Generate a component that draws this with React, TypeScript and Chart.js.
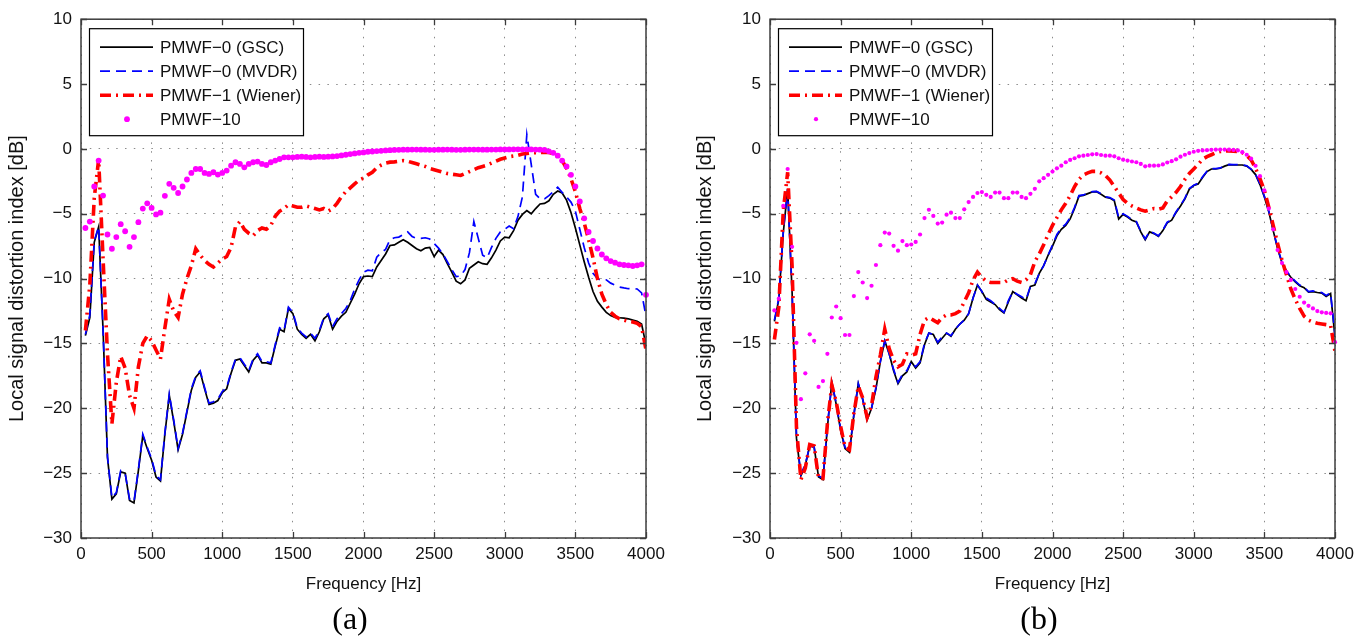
import React, { useEffect, useRef } from "react";
import { Chart, registerables } from "chart.js";

Chart.register(...registerables);

// ---------- data ----------
const FREQ_HZ = [
  31.25, 62.5, 93.75, 125, 156.25, 187.5, 218.75, 250, 281.25, 312.5, 343.75, 375, 406.25, 437.5, 468.75, 500,
  531.25, 562.5, 593.75, 625, 656.25, 687.5, 718.75, 750, 781.25, 812.5, 843.75, 875, 906.25, 937.5, 968.75, 1000,
  1031.25, 1062.5, 1093.75, 1125, 1156.25, 1187.5, 1218.75, 1250, 1281.25, 1312.5, 1343.75, 1375, 1406.25, 1437.5, 1468.75, 1500,
  1531.25, 1562.5, 1593.75, 1625, 1656.25, 1687.5, 1718.75, 1750, 1781.25, 1812.5, 1843.75, 1875, 1906.25, 1937.5, 1968.75, 2000,
  2031.25, 2062.5, 2093.75, 2125, 2156.25, 2187.5, 2218.75, 2250, 2281.25, 2312.5, 2343.75, 2375, 2406.25, 2437.5, 2468.75, 2500,
  2531.25, 2562.5, 2593.75, 2625, 2656.25, 2687.5, 2718.75, 2750, 2781.25, 2812.5, 2843.75, 2875, 2906.25, 2937.5, 2968.75, 3000,
  3031.25, 3062.5, 3093.75, 3125, 3156.25, 3187.5, 3218.75, 3250, 3281.25, 3312.5, 3343.75, 3375, 3406.25, 3437.5, 3468.75, 3500,
  3531.25, 3562.5, 3593.75, 3625, 3656.25, 3687.5, 3718.75, 3750, 3781.25, 3812.5, 3843.75, 3875, 3906.25, 3937.5, 3968.75, 4000,
];

// panel (a)
const GSC_A = [
  -14.4, -13.0, -7.2, -6.0, -14.0, -23.8, -27.0, -26.6, -24.9, -25.0, -27.1, -27.3, -24.8, -22.1, -23.1, -24.0,
  -25.3, -25.6, -22.0, -19.0, -21.0, -23.2, -22.0, -20.3, -18.6, -17.6, -17.2, -18.5, -19.7, -19.6, -19.4, -18.8,
  -18.5, -17.3, -16.3, -16.2, -16.7, -17.2, -16.3, -15.9, -16.5, -16.5, -16.6, -15.2, -13.9, -14.1, -12.3, -12.7,
  -13.9, -14.3, -14.6, -14.3, -14.8, -14.1, -13.1, -12.8, -13.9, -13.3, -12.9, -12.6, -11.9, -11.2, -10.4, -9.85,
  -9.8, -9.85, -9.1, -8.6, -8.1, -7.45, -7.4, -7.2, -7.0, -7.2, -7.45, -7.7, -7.85, -7.65, -7.6, -8.3,
  -7.8, -8.15, -8.85, -9.5, -10.2, -10.4, -10.1, -9.2, -8.95, -8.7, -8.85, -8.9, -8.4, -7.8, -7.1, -6.8,
  -6.85, -6.3, -5.5, -5.05, -4.75, -5.0, -4.6, -4.25, -4.2, -4.0, -3.5, -3.25, -3.4, -3.95, -4.9, -6.1,
  -7.4, -8.7, -9.9, -11.0, -11.75, -12.2, -12.6, -12.85, -13.0, -13.02, -13.05, -13.1, -13.2, -13.3, -13.5, -15.1,
];
const MVDR_A = [
  -14.3, -12.8, -7.1, -6.0, -14.0, -23.7, -26.9, -26.5, -24.8, -25.0, -27.0, -27.2, -24.7, -22.0, -23.0, -23.9,
  -25.2, -25.5, -21.9, -18.9, -20.9, -23.1, -21.9, -20.2, -18.5, -17.5, -17.1, -18.4, -19.6, -19.5, -19.3, -18.7,
  -18.4, -17.2, -16.2, -16.1, -16.6, -17.1, -16.2, -15.8, -16.4, -16.4, -16.5, -15.1, -13.8, -14.0, -12.2, -12.6,
  -13.8, -14.2, -14.5, -14.2, -14.6, -14.0, -13.0, -12.7, -13.7, -13.1, -12.7, -12.3, -11.7, -10.8, -10.1, -9.5,
  -9.35, -9.4, -8.35, -8.0, -7.75, -7.0, -6.85, -6.8, -6.6, -6.4, -6.75, -6.9, -6.9, -6.85, -6.95, -7.3,
  -7.65, -8.1, -8.7, -9.3, -9.85, -9.8, -9.3, -8.0, -5.6, -6.9, -8.2, -8.4, -7.6, -6.9, -6.4, -6.2,
  -5.95, -6.15, -5.2, -3.7, 1.1, -1.2, -3.5, -3.85, -3.85, -3.6, -3.3, -2.95, -3.35, -3.7, -4.1, -4.8,
  -6.2, -7.6, -8.8, -9.6, -10.0, -10.15, -10.1, -10.35, -10.5, -10.65, -10.72, -10.78, -10.78, -10.8, -11.1, -12.9,
];
const WIENER_A = [
  -14.0, -10.5, -3.8, -0.8, -8.5, -15.8, -21.2, -18.0, -16.0, -16.9, -19.0, -20.0, -16.8, -15.0, -14.4, -14.8,
  -15.5, -16.2, -13.8, -11.6, -12.5, -13.0, -11.2, -10.0, -9.0, -7.7, -8.2, -8.6, -8.9, -9.1, -8.8, -8.5,
  -8.3, -7.6, -6.0, -5.6, -6.2, -6.5, -6.7, -6.3, -6.1, -6.2, -5.9, -5.2, -4.8, -4.6, -4.3, -4.4,
  -4.5, -4.5, -4.4, -4.5, -4.6, -4.7, -4.6, -4.8, -4.6, -4.2, -3.7, -3.3, -3.0, -2.7, -2.4, -2.25,
  -2.0, -1.8, -1.45, -1.25, -1.1, -1.02, -1.0, -0.95, -0.9, -0.95, -1.05, -1.15, -1.25, -1.35, -1.5, -1.6,
  -1.7, -1.8, -1.9, -1.95, -2.0, -2.05, -1.9, -1.75, -1.6, -1.45, -1.35, -1.25, -1.1, -0.95, -0.8, -0.7,
  -0.6, -0.55, -0.5, -0.4, -0.35, -0.3, -0.3, -0.28, -0.27, -0.28, -0.35, -0.55, -0.9, -1.5, -2.3, -3.3,
  -4.6, -5.7, -7.0, -8.4, -10.0, -11.2, -12.0, -12.6, -12.9, -13.1, -13.2, -13.3, -13.35, -13.45, -13.7, -15.5,
];
const PMWF10_A = [
  -6.1, -5.6, -2.9, -0.9, -3.6, -6.6, -7.7, -6.8, -5.8, -6.35, -7.55, -6.8, -5.65, -4.6, -4.2, -4.55,
  -5.05, -4.92, -3.62, -2.69, -3.0, -3.4, -2.9, -2.36, -1.85, -1.55, -1.55, -1.85, -1.93, -1.8, -1.98, -1.85,
  -1.67, -1.29, -1.03, -1.16, -1.42, -1.16, -1.03, -0.98, -1.16, -1.24, -1.03, -0.9, -0.78, -0.65, -0.65, -0.65,
  -0.62, -0.6, -0.62, -0.65, -0.62, -0.6, -0.62, -0.6, -0.58, -0.55, -0.5, -0.45, -0.4, -0.35, -0.3, -0.27,
  -0.22, -0.2, -0.17, -0.15, -0.12, -0.1, -0.08, -0.07, -0.06, -0.06, -0.05, -0.05, -0.06, -0.06, -0.07, -0.07,
  -0.06, -0.06, -0.05, -0.06, -0.07, -0.07, -0.06, -0.05, -0.05, -0.05, -0.06, -0.06, -0.05, -0.05, -0.04, -0.04,
  -0.04, -0.03, -0.03, -0.03, -0.03, -0.04, -0.05, -0.06, -0.08, -0.19, -0.3, -0.52, -0.9, -1.35, -2.0, -2.9,
  -4.05, -5.35, -6.4, -7.1, -7.68, -8.14, -8.44, -8.65, -8.77, -8.9, -8.95, -8.98, -9.03, -8.98, -8.9, -11.25,
];

// panel (b)
const GSC_B = [
  -13.3, -11.6, -6.5, -3.1, -11.0, -22.3, -25.2, -24.4, -22.9, -23.0, -25.3, -25.5, -21.5, -18.0, -19.7, -21.7,
  -23.1, -23.4, -20.5, -18.1, -19.3, -20.9, -20.0, -18.5, -16.4, -14.8, -15.8, -17.1, -18.1, -17.5, -17.2, -16.4,
  -16.9, -16.5, -15.1, -14.2, -14.3, -15.0, -14.6, -14.2, -14.45, -13.9, -13.5, -13.2, -12.7, -11.5, -10.5, -11.0,
  -11.6, -11.8, -12.0, -12.4, -12.65, -11.8, -11.0, -11.25, -11.5, -11.7, -10.6, -10.5, -9.6, -9.0, -8.2, -7.5,
  -6.7, -6.2, -5.9, -5.4, -4.6, -3.64, -3.58, -3.45, -3.32, -3.3, -3.5, -3.72, -3.79, -4.0, -5.4, -5.05,
  -5.25, -5.5, -5.63, -6.4, -7.0, -6.4, -6.53, -6.75, -6.3, -5.7, -5.5, -4.9, -4.4, -3.85, -3.1, -2.82,
  -2.7, -2.2, -1.75, -1.55, -1.55, -1.49, -1.33, -1.22, -1.24, -1.24, -1.24, -1.33, -1.58, -1.98, -2.75, -3.7,
  -4.85, -6.3, -7.7, -8.8, -9.45, -9.9, -10.25, -10.55, -10.7, -11.05, -11.0, -11.07, -11.12, -11.38, -11.15, -14.5,
];
const MVDR_B = [
  -13.2, -11.5, -6.4, -3.1, -11.0, -22.2, -25.1, -24.3, -22.9, -23.0, -25.2, -25.4, -21.4, -18.0, -19.6, -21.6,
  -23.0, -23.3, -20.5, -18.1, -19.3, -20.8, -20.0, -18.4, -16.4, -14.8, -15.8, -17.0, -18.0, -17.4, -17.1, -16.4,
  -16.8, -16.4, -15.0, -14.2, -14.3, -14.9, -14.5, -14.2, -14.4, -13.9, -13.5, -13.2, -12.7, -11.5, -10.5, -11.0,
  -11.5, -11.7, -12.0, -12.3, -12.6, -11.7, -11.0, -11.2, -11.4, -11.6, -10.6, -10.4, -9.6, -9.0, -8.2, -7.4,
  -6.6, -6.1, -5.8, -5.3, -4.5, -3.6, -3.55, -3.4, -3.3, -3.28, -3.45, -3.7, -3.75, -3.95, -5.3, -5.0,
  -5.2, -5.45, -5.6, -6.35, -6.95, -6.35, -6.5, -6.7, -6.25, -5.65, -5.45, -4.85, -4.35, -3.8, -3.05, -2.8,
  -2.65, -2.15, -1.72, -1.52, -1.52, -1.47, -1.3, -1.2, -1.22, -1.22, -1.22, -1.3, -1.55, -1.95, -2.7, -3.65,
  -4.8, -6.25, -7.65, -8.75, -9.4, -9.85, -10.2, -10.5, -10.65, -11.0, -10.95, -11.02, -11.08, -11.3, -11.1, -14.4,
];
const WIENER_B = [
  -14.7, -12.2, -4.8, -1.8, -9.0, -21.5, -25.5, -24.6, -22.8, -22.9, -25.4, -25.4, -21.2, -18.2, -19.5, -21.4,
  -23.0, -23.2, -20.4, -18.3, -19.2, -20.7, -19.8, -17.6, -15.9, -13.9, -15.4, -16.3, -16.8, -16.6, -15.8, -15.9,
  -15.8, -14.3, -13.2, -13.0, -13.2, -13.4, -13.0, -12.8, -12.8, -12.7, -12.5, -11.8, -11.1, -10.1, -9.5, -9.9,
  -10.2, -10.3, -10.3, -10.3, -10.3, -10.1, -10.0, -10.2, -10.3, -10.1, -9.7, -8.7, -8.1, -7.4, -6.6, -5.9,
  -5.3, -4.7, -4.2, -3.6, -2.9, -2.35, -2.0, -1.85, -1.73, -1.73, -1.85, -2.05, -2.4, -2.9, -3.4, -3.9,
  -4.2, -4.4, -4.55, -4.7, -4.8, -4.7, -4.6, -4.65, -4.55, -4.0, -3.7, -3.35, -2.9, -2.35, -1.9, -1.55,
  -1.2, -0.8, -0.6, -0.45, -0.3, -0.2, -0.15, -0.15, -0.17, -0.2, -0.3, -0.5, -0.85, -1.5, -2.3, -3.2,
  -4.5, -5.9, -7.3, -8.6, -9.7, -10.8, -11.6, -12.3, -12.9, -13.2, -13.35, -13.45, -13.5, -13.55, -13.6, -15.6,
];
const PMWF10_B = [
  -12.45, -11.55, -4.4, -1.55, -7.55, -14.95, -19.3, -17.3, -14.3, -14.8, -18.35, -17.9, -15.8, -13.0, -12.15, -13.05,
  -14.35, -14.35, -11.35, -9.5, -10.3, -11.5, -10.55, -8.95, -7.42, -6.45, -6.53, -7.47, -7.85, -7.11, -7.42, -7.37,
  -7.17, -6.6, -5.33, -4.69, -5.17, -5.76, -5.68, -5.07, -4.92, -5.33, -5.33, -4.66, -4.1, -3.7, -3.4, -3.33,
  -3.54, -3.7, -3.37, -3.37, -3.8, -3.8, -3.37, -3.37, -3.7, -3.8, -3.46, -3.08, -2.5, -2.26, -2.0, -1.75,
  -1.5, -1.29, -1.03, -0.85, -0.72, -0.57, -0.52, -0.47, -0.42, -0.4, -0.47, -0.52, -0.52, -0.57, -0.72, -0.83,
  -0.9, -0.97, -1.03, -1.16, -1.34, -1.29, -1.29, -1.28, -1.2, -1.05, -0.95, -0.8, -0.6, -0.45, -0.32, -0.22,
  -0.15, -0.12, -0.1, -0.07, -0.05, -0.05, -0.05, -0.06, -0.08, -0.12, -0.25, -0.45, -0.75, -1.3, -2.1, -3.2,
  -4.6, -6.2, -7.8, -8.8, -9.5, -10.1, -10.8, -11.4, -11.85, -12.1, -12.3, -12.5, -12.6, -12.65, -12.68, -14.9,
];

const SERIES_LABELS = ["PMWF\u22120 (GSC)", "PMWF\u22120 (MVDR)", "PMWF\u22121 (Wiener)", "PMWF\u221210"];
const X_TICKS = [0, 500, 1000, 1500, 2000, 2500, 3000, 3500, 4000];
const Y_TICKS = [-30, -25, -20, -15, -10, -5, 0, 5, 10];
const X_TITLE = "Frequency [Hz]";
const Y_TITLE = "Local signal distortion index [dB]";
const PANEL_LABELS = ["(a)", "(b)"];

// ---------- styling ----------
const SANS = '"Liberation Sans", Arial, Helvetica, sans-serif';
const TEXT = "#111111";
const FRAME = "#3c3c3c";

const matlabPlugin = {
  id: "matlabFrameLegend",
  afterDatasetsDraw(chart: any) {
    const { ctx, chartArea, scales } = chart;
    const { left, right, top, bottom } = chartArea;
    const xs = scales.x;
    const ys = scales.y;
    ctx.save();
    // inward ticks on all four sides
    ctx.strokeStyle = FRAME;
    ctx.lineWidth = 1.3;
    ctx.setLineDash([]);
    ctx.beginPath();
    X_TICKS.forEach((v) => {
      const px = Math.round(xs.getPixelForValue(v)) + 0.5;
      ctx.moveTo(px, bottom);
      ctx.lineTo(px, bottom - 6);
      ctx.moveTo(px, top);
      ctx.lineTo(px, top + 6);
    });
    Y_TICKS.forEach((v) => {
      const py = Math.round(ys.getPixelForValue(v)) + 0.5;
      ctx.moveTo(left, py);
      ctx.lineTo(left + 6, py);
      ctx.moveTo(right, py);
      ctx.lineTo(right - 6, py);
    });
    ctx.stroke();
    ctx.lineWidth = 1.5;
    ctx.strokeRect(left, top, right - left, bottom - top);

    // legend box
    const x0 = left + 8;
    const y0 = top + 9;
    const w = 214;
    const h = 107;
    ctx.fillStyle = "#ffffff";
    ctx.fillRect(x0, y0, w, h);
    ctx.strokeStyle = "#000000";
    ctx.lineWidth = 1.2;
    ctx.strokeRect(x0 + 0.5, y0 + 0.5, w, h);
    ctx.font = `17px ${SANS}`;
    ctx.textBaseline = "middle";
    ctx.textAlign = "left";
    chart.data.datasets.forEach((ds: any, i: number) => {
      const yy = y0 + 19 + i * 24;
      if (ds.showLine === false) {
        ctx.fillStyle = ds.pointBackgroundColor;
        ctx.beginPath();
        ctx.arc(x0 + 38, yy, ds.pointRadius, 0, Math.PI * 2);
        ctx.fill();
      } else {
        ctx.strokeStyle = ds.borderColor;
        ctx.lineWidth = ds.borderWidth;
        ctx.setLineDash(ds.borderDash || []);
        ctx.beginPath();
        ctx.moveTo(x0 + 11, yy);
        ctx.lineTo(x0 + 64, yy);
        ctx.stroke();
        ctx.setLineDash([]);
      }
      ctx.fillStyle = TEXT;
      ctx.fillText(ds.label, x0 + 71, yy + 1);
    });
    ctx.restore();
  },
};

type PanelProps = {
  left: number;
  axisWidth: number;
  padRight: number;
  yTitlePad: number;
  dotRadius: number;
  gsc: number[];
  mvdr: number[];
  wiener: number[];
  pmwf10: number[];
};

function toPoints(values: number[]) {
  return FREQ_HZ.map((f, i) => ({ x: f, y: values[i] }));
}

function Panel(props: PanelProps) {
  const ref = useRef<HTMLCanvasElement | null>(null);
  useEffect(() => {
    if (!ref.current) return;
    const chart = new Chart(ref.current, {
      type: "line",
      data: {
        datasets: [
          {
            label: SERIES_LABELS[0],
            data: toPoints(props.gsc),
            borderColor: "#000000",
            borderWidth: 1.7,
            pointRadius: 0,
            tension: 0,
            order: 4,
          },
          {
            label: SERIES_LABELS[1],
            data: toPoints(props.mvdr),
            borderColor: "#0000ff",
            borderWidth: 1.7,
            borderDash: [10, 6],
            pointRadius: 0,
            tension: 0,
            order: 3,
          },
          {
            label: SERIES_LABELS[2],
            data: toPoints(props.wiener),
            borderColor: "#ff0000",
            borderWidth: 3.6,
            borderDash: [11, 5, 2, 5],
            pointRadius: 0,
            tension: 0,
            order: 2,
          },
          {
            label: SERIES_LABELS[3],
            data: toPoints(props.pmwf10),
            showLine: false,
            borderColor: "#ff00ff",
            pointBackgroundColor: "#ff00ff",
            pointBorderColor: "#ff00ff",
            pointBorderWidth: 0,
            pointRadius: props.dotRadius,
            clip: 8,
            order: 1,
          },
        ] as any,
      },
      options: {
        animation: false,
        responsive: false,
        devicePixelRatio: 1,
        events: [],
        layout: { padding: { top: 16, right: props.padRight, left: 0, bottom: 0 } },
        plugins: { legend: { display: false }, tooltip: { enabled: false } },
        scales: {
          x: {
            type: "linear",
            min: 0,
            max: 4000,
            afterBuildTicks: (s: any) => {
              s.ticks = X_TICKS.map((v) => ({ value: v }));
            },
            afterFit: (s: any) => {
              s.height = 105;
            },
            ticks: {
              autoSkip: false,
              maxRotation: 0,
              padding: 6,
              color: TEXT,
              font: { family: SANS, size: 17 },
              callback: (v: any) => String(v),
            },
            grid: { color: "#8a8a8a", lineWidth: 1, drawTicks: false },
            border: { display: false, dash: [1.5, 7.3] },
            title: {
              display: true,
              text: X_TITLE,
              color: TEXT,
              font: { family: SANS, size: 17 },
              padding: { top: 0, bottom: 48 },
            },
          },
          y: {
            type: "linear",
            min: -30,
            max: 10,
            afterBuildTicks: (s: any) => {
              s.ticks = Y_TICKS.map((v) => ({ value: v }));
            },
            afterFit: (s: any) => {
              s.width = props.axisWidth;
            },
            ticks: {
              padding: 9,
              color: TEXT,
              font: { family: SANS, size: 17 },
              callback: (v: any) => String(v).replace("-", "\u2212"),
            },
            grid: { color: "#8a8a8a", lineWidth: 1, drawTicks: false },
            border: { display: false, dash: [1.5, 7.3] },
            title: {
              display: true,
              text: Y_TITLE,
              color: TEXT,
              font: { family: SANS, size: 20 },
              padding: { top: props.yTitlePad, bottom: 0 },
            },
          },
        },
      } as any,
      plugins: [matlabPlugin],
    });
    return () => chart.destroy();
  }, []);
  return (
    <canvas
      ref={ref}
      width={683}
      height={643}
      style={{ position: "absolute", left: props.left, top: 0, width: 683, height: 643 }}
    />
  );
}

const labelStyle = (centerX: number): React.CSSProperties => ({
  position: "absolute",
  left: centerX - 50,
  width: 100,
  top: 602,
  textAlign: "center",
  fontFamily: '"Liberation Serif", "Times New Roman", serif',
  fontSize: 32,
  lineHeight: "32px",
  color: "#000",
});

export default function App() {
  return (
    <div
      style={{
        position: "absolute",
        left: 0,
        top: 0,
        width: 1366,
        height: 643,
        background: "#ffffff",
        overflow: "hidden",
      }}
    >
      <Panel
        left={0}
        axisWidth={81}
        padRight={37}
        yTitlePad={5}
        dotRadius={2.9}
        gsc={GSC_A}
        mvdr={MVDR_A}
        wiener={WIENER_A}
        pmwf10={PMWF10_A}
      />
      <Panel
        left={683}
        axisWidth={87}
        padRight={31}
        yTitlePad={10}
        dotRadius={2.1}
        gsc={GSC_B}
        mvdr={MVDR_B}
        wiener={WIENER_B}
        pmwf10={PMWF10_B}
      />
      <div style={labelStyle(350)}>{PANEL_LABELS[0]}</div>
      <div style={labelStyle(1039)}>{PANEL_LABELS[1]}</div>
    </div>
  );
}
